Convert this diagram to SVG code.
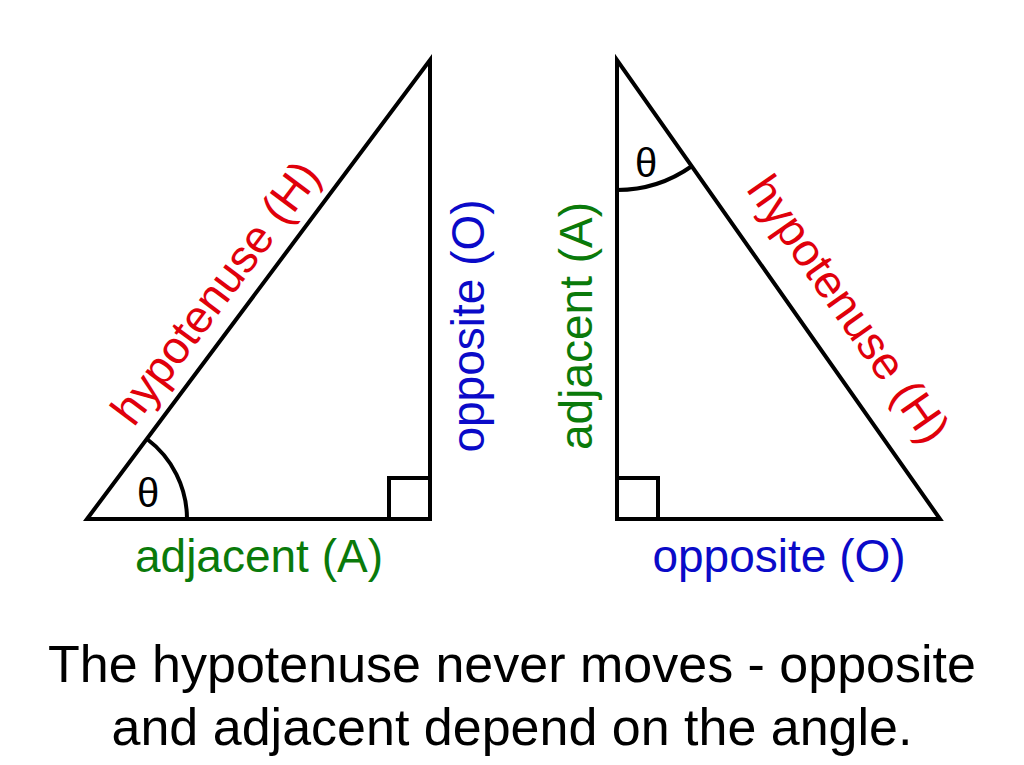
<svg xmlns="http://www.w3.org/2000/svg" width="1024" height="765" viewBox="0 0 1024 765">
<style>
.l{fill:none;stroke:#000;stroke-width:4;stroke-linejoin:miter}
.t{font-family:"Liberation Sans",Arial,sans-serif;font-size:46px;text-anchor:middle}
.r{fill:#e0000b}.b{fill:#0a0ac8}.g{fill:#0a7a0a}
</style>
<rect width="1024" height="765" fill="#fff"/>
<g id="left">
<polygon class="l" points="87,519 430,519 430,60"/>
<rect class="l" x="389" y="478" width="41" height="41"/>
<path class="l" d="M187,519 A100,100 0 0 0 147,439"/>
<text class="t" x="148" y="507" style="font-size:40px">θ</text>
<text class="t r" transform="translate(228,302) rotate(-53.2)">hypotenuse (H)</text>
<text class="t b" transform="translate(484,326) rotate(-90)">opposite (O)</text>
<text class="t g" x="259" y="572">adjacent (A)</text>
</g>
<g id="right">
<polygon class="l" points="617,60 617,519 940,519"/>
<rect class="l" x="617" y="478" width="41" height="41"/>
<path class="l" d="M617,190 A130,130 0 0 0 692,166"/>
<text class="t" x="646" y="177" style="font-size:40px">θ</text>
<text class="t r" transform="translate(836,318) rotate(54.9)">hypotenuse (H)</text>
<text class="t g" transform="translate(592,326) rotate(-90)">adjacent (A)</text>
<text class="t b" x="779" y="572">opposite (O)</text>
</g>
<g id="caption">
<text class="t" x="512" y="682" style="font-size:52px">The hypotenuse never moves - opposite</text>
<text class="t" x="512" y="745" style="font-size:52px">and adjacent depend on the angle.</text>
</g>
</svg>
